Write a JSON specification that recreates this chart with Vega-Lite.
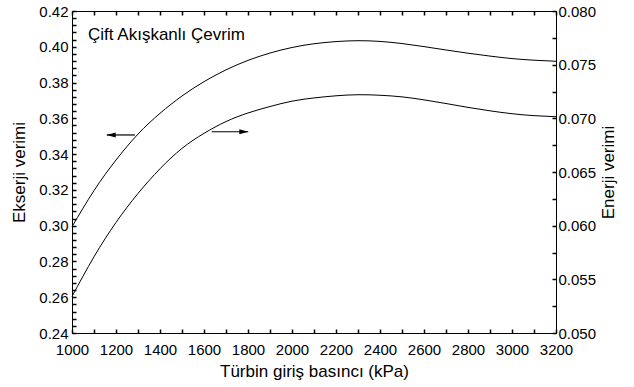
{
  "$schema": "https://vega.github.io/schema/vega-lite/v6.json",
  "width": 484,
  "height": 322,
  "autosize": {"type": "none"},
  "padding": {"left": 72, "top": 11, "right": 78, "bottom": 54},
  "background": "white",
  "config": {
    "view": {"stroke": "black", "strokeWidth": 1},
    "font": "Liberation Sans",
    "axis": {
      "grid": false,
      "domainColor": "black",
      "labelColor": "black",
      "titleColor": "black",
      "labelFont": "Liberation Sans",
      "titleFont": "Liberation Sans",
      "labelFontSize": 15,
      "titleFontSize": 17,
      "titleFontWeight": "normal",
      "domainWidth": 1
    }
  },
  "datasets": {
    "curves": [
      {"P": 1000, "Ekserji": 0.2994, "Enerji": 0.0534},
      {"P": 1100, "Ekserji": 0.3196, "Enerji": 0.0571},
      {"P": 1200, "Ekserji": 0.3367, "Enerji": 0.0603},
      {"P": 1300, "Ekserji": 0.3512, "Enerji": 0.0630},
      {"P": 1400, "Ekserji": 0.3628, "Enerji": 0.0653},
      {"P": 1500, "Ekserji": 0.3725, "Enerji": 0.0672},
      {"P": 1600, "Ekserji": 0.3805, "Enerji": 0.0686},
      {"P": 1700, "Ekserji": 0.3871, "Enerji": 0.0697},
      {"P": 1800, "Ekserji": 0.3924, "Enerji": 0.0705},
      {"P": 1900, "Ekserji": 0.3965, "Enerji": 0.0711},
      {"P": 2000, "Ekserji": 0.3996, "Enerji": 0.0716},
      {"P": 2100, "Ekserji": 0.4017, "Enerji": 0.0719},
      {"P": 2200, "Ekserji": 0.4029, "Enerji": 0.0721},
      {"P": 2300, "Ekserji": 0.4034, "Enerji": 0.0722},
      {"P": 2400, "Ekserji": 0.4030, "Enerji": 0.07215},
      {"P": 2500, "Ekserji": 0.4018, "Enerji": 0.0720},
      {"P": 2600, "Ekserji": 0.4001, "Enerji": 0.07172},
      {"P": 2700, "Ekserji": 0.3982, "Enerji": 0.07138},
      {"P": 2800, "Ekserji": 0.3964, "Enerji": 0.07102},
      {"P": 2900, "Ekserji": 0.3948, "Enerji": 0.0707},
      {"P": 3000, "Ekserji": 0.3934, "Enerji": 0.07043},
      {"P": 3100, "Ekserji": 0.3925, "Enerji": 0.07025},
      {"P": 3200, "Ekserji": 0.3919, "Enerji": 0.07015}
    ],
    "arrows": [
      {"dir": "left", "start": 1286, "tip": 1158, "head": 1178, "y": 0.3507},
      {"dir": "right", "start": 1635, "tip": 1801, "head": 1781, "y": 0.3525}
    ],
    "labels": [
      {"P": 1073, "v": 0.0773, "text": "Çift Akışkanlı Çevrim"}
    ]
  },
  "resolve": {
    "scale": {"y": "independent"},
    "axis": {"x": "independent", "y": "independent"}
  },
  "layer": [
    {
      "data": {"name": "curves"},
      "mark": {"type": "line", "color": "black", "strokeWidth": 1, "interpolate": "natural"},
      "encoding": {
        "x": {
          "field": "P", "type": "quantitative",
          "scale": {"domain": [1000, 3200], "nice": false, "zero": false},
          "axis": {
            "orient": "bottom",
            "values": [1000,1200,1400,1600,1800,2000,2200,2400,2600,2800,3000,3200],
            "format": "d",
            "ticks": false,
            "labelPadding": 9,
            "labelFlush": false,
            "labelOverlap": false,
            "title": "Türbin giriş basıncı (kPa)",
            "titlePadding": 6
          }
        },
        "y": {
          "field": "Ekserji", "type": "quantitative",
          "scale": {"domain": [0.24, 0.42], "nice": false, "zero": false},
          "axis": {
            "orient": "left",
            "values": [0.24,0.26,0.28,0.30,0.32,0.34,0.36,0.38,0.40,0.42],
            "format": ".2f",
            "ticks": false,
            "labelPadding": 4,
            "labelOverlap": false,
            "labelFlush": false,
            "title": "Ekserji verimi",
            "titlePadding": 10
          }
        }
      }
    },
    {
      "data": {"name": "curves"},
      "mark": {"type": "line", "color": "black", "strokeWidth": 1, "interpolate": "natural"},
      "encoding": {
        "x": {
          "field": "P", "type": "quantitative",
          "scale": {"domain": [1000, 3200], "nice": false, "zero": false},
          "axis": {
            "orient": "top",
            "values": [1000,1100,1200,1300,1400,1500,1600,1700,1800,1900,2000,2100,2200,2300,2400,2500,2600,2700,2800,2900,3000,3100,3200],
            "labels": false,
            "domain": false,
            "offset": -4,
            "tickSize": 4,
            "tickWidth": 1.5,
            "tickColor": "black",
            "title": null
          }
        },
        "y": {
          "field": "Enerji", "type": "quantitative",
          "scale": {"domain": [0.05, 0.08], "nice": false, "zero": false},
          "axis": {
            "orient": "right",
            "values": [0.05,0.055,0.06,0.065,0.07,0.075,0.08],
            "format": ".3f",
            "ticks": false,
            "labelPadding": 2,
            "labelOverlap": false,
            "labelFlush": false,
            "title": "Enerji verimi",
            "titleAngle": 270,
            "titleBaseline": "top",
            "titlePadding": 5
          }
        }
      }
    },
    {
      "data": {"name": "arrows"},
      "mark": {"type": "rule", "color": "black", "strokeWidth": 1.2},
      "encoding": {
        "x": {
          "field": "start", "type": "quantitative",
          "scale": {"domain": [1000, 3200], "nice": false, "zero": false},
          "axis": {
            "orient": "bottom",
            "values": [1000,1100,1200,1300,1400,1500,1600,1700,1800,1900,2000,2100,2200,2300,2400,2500,2600,2700,2800,2900,3000,3100,3200],
            "labels": false,
            "domain": false,
            "offset": -4,
            "tickSize": 4,
            "tickWidth": 1.5,
            "tickColor": "black",
            "title": null
          }
        },
        "x2": {"field": "tip"},
        "y": {
          "field": "y", "type": "quantitative",
          "scale": {"domain": [0.24, 0.42], "nice": false, "zero": false},
          "axis": {
            "orient": "left",
            "values": [0.24,0.244,0.248,0.252,0.256,0.26,0.264,0.268,0.272,0.276,0.28,0.284,0.288,0.292,0.296,0.3,0.304,0.308,0.312,0.316,0.32,0.324,0.328,0.332,0.336,0.34,0.344,0.348,0.352,0.356,0.36,0.364,0.368,0.372,0.376,0.38,0.384,0.388,0.392,0.396,0.4,0.404,0.408,0.412,0.416,0.42],
            "labels": false,
            "domain": false,
            "offset": -4,
            "tickSize": 4,
            "tickWidth": 1.5,
            "tickColor": "black",
            "title": null
          }
        }
      }
    },
    {
      "data": {"name": "arrows"},
      "mark": {"type": "point", "filled": true, "color": "black", "opacity": 1, "size": 81, "strokeWidth": 0},
      "encoding": {
        "x": {"field": "head", "type": "quantitative", "scale": {"domain": [1000, 3200], "nice": false, "zero": false}, "axis": null},
        "y": {"field": "y", "type": "quantitative", "scale": {"domain": [0.24, 0.42], "nice": false, "zero": false}, "axis": null},
        "shape": {
          "field": "dir", "type": "nominal",
          "scale": {"domain": ["left", "right"], "range": ["M-1,0L1,-0.55L1,0.55Z", "M1,0L-1,-0.55L-1,0.55Z"]},
          "legend": null
        }
      }
    },
    {
      "data": {"name": "labels"},
      "mark": {"type": "text", "align": "left", "baseline": "alphabetic", "fontSize": 17, "font": "Liberation Sans", "color": "black"},
      "encoding": {
        "x": {"field": "P", "type": "quantitative", "scale": {"domain": [1000, 3200], "nice": false, "zero": false}, "axis": null},
        "y": {
          "field": "v", "type": "quantitative",
          "scale": {"domain": [0.05, 0.08], "nice": false, "zero": false},
          "axis": {
            "orient": "right",
            "values": [0.05,0.0525,0.055,0.0575,0.06,0.0625,0.065,0.0675,0.07,0.0725,0.075,0.0775,0.08],
            "labels": false,
            "domain": false,
            "offset": -4,
            "tickSize": 4,
            "tickWidth": 1.5,
            "tickColor": "black",
            "title": null
          }
        },
        "text": {"field": "text"}
      }
    }
  ]
}
